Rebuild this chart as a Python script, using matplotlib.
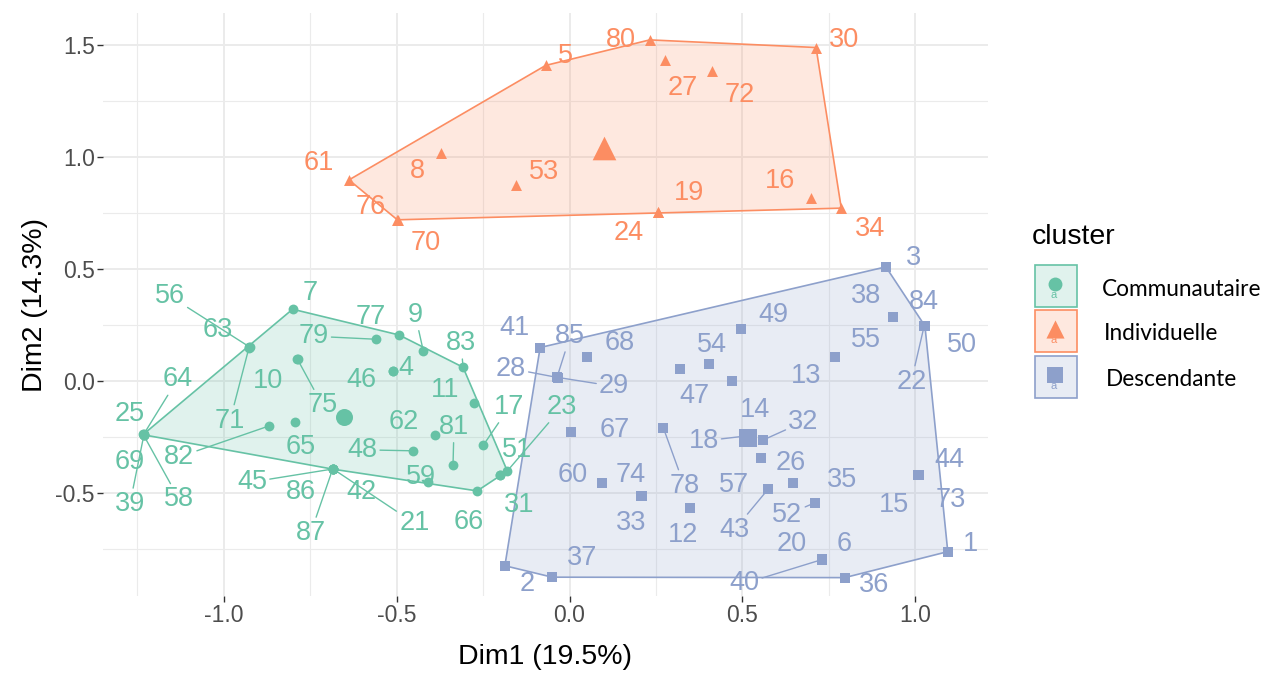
import numpy as np
import matplotlib.pyplot as plt
from matplotlib.patches import Polygon, Rectangle

plt.rcParams['font.family'] = ['Liberation Sans', 'DejaVu Sans']
plt.rcParams['axes.unicode_minus'] = False

cluster_names = ['Communautaire', 'Individuelle', 'Descendante']
cluster_colors = ['#66C2A5', '#FC8D62', '#8DA0CB']
cluster_markers = ['o', '^', 's']

# cluster 1 : Communautaire
com_ids = [4, 7, 9, 10, 11, 17, 21, 23, 25, 31, 39, 42, 45, 46, 48, 51, 56, 58,
           59, 62, 63, 64, 65, 66, 69, 71, 75, 77, 79, 81, 82, 83, 86, 87]
com_x = [-0.511, -0.801, -0.423, -0.785, -0.275, -0.249, -0.683, -0.180, -1.232,
         -0.201, -1.231, -0.685, -0.684, -0.512, -0.452, -0.200, -0.925, -1.233,
         -0.410, -0.389, -0.926, -1.232, -0.793, -0.267, -1.231, -0.927, -0.787,
         -0.493, -0.561, -0.337, -0.869, -0.308, -0.684, -0.685]
com_y = [0.045, 0.320, 0.134, 0.099, -0.100, -0.286, -0.394, -0.402, -0.240,
         -0.421, -0.241, -0.392, -0.393, 0.046, -0.312, -0.420, 0.151, -0.239,
         -0.451, -0.241, 0.150, -0.239, -0.182, -0.491, -0.240, 0.149, 0.097,
         0.205, 0.186, -0.375, -0.201, 0.061, -0.394, -0.393]

# cluster 2 : Individuelle
ind_ids = [5, 8, 16, 19, 24, 27, 30, 34, 53, 61, 70, 72, 76, 80]
ind_x = [-0.069, -0.373, 0.697, 0.256, 0.255, 0.277, 0.713, 0.786, -0.155,
         -0.638, -0.498, 0.412, -0.497, 0.232]
ind_y = [1.408, 1.017, 0.816, 0.755, 0.756, 1.433, 1.488, 0.771, 0.875,
         0.897, 0.719, 1.384, 0.720, 1.522]

# cluster 3 : Descendante
des_ids = [1, 2, 3, 6, 12, 13, 14, 15, 18, 20, 22, 26, 28, 29, 32, 33, 35, 36,
           37, 38, 40, 41, 43, 44, 47, 49, 50, 52, 54, 55, 57, 60, 67, 68, 73,
           74, 78, 84, 85]
des_x = [1.094, -0.187, 0.915, 0.730, 0.347, 0.767, 0.470, 1.010, 0.509, 0.729,
         1.026, 0.554, -0.034, -0.036, 0.561, 0.209, 0.647, 0.796, -0.050, 0.937,
         0.731, -0.085, 0.575, 1.011, 0.319, 0.497, 1.028, 0.711, 0.403, 0.768,
         0.573, 0.093, 0.005, 0.051, 1.009, 0.208, 0.271, 1.027, -0.036]
des_y = [-0.762, -0.825, 0.509, -0.798, -0.568, 0.106, 0.000, -0.420, -0.246,
         -0.799, 0.247, -0.342, 0.015, 0.016, -0.263, -0.515, -0.454, -0.878,
         -0.876, 0.284, -0.797, 0.149, -0.482, -0.419, 0.052, 0.232, 0.245,
         -0.543, 0.076, 0.105, -0.484, -0.454, -0.229, 0.106, -0.421, -0.513,
         -0.208, 0.246, 0.017]

# label placement (pixel offsets from the point, image y downwards)
label_off = {
    56: (-80, -51), 63: (-32, -17), 71: (-19, 73), 7: (18, -16), 79: (-62, -3),
    64: (34, -55), 25: (-14, -21), 10: (-30, 22), 75: (25, 46), 69: (-14, 27),
    39: (-14, 69), 58: (36, 65), 82: (-90, 31), 65: (5, 25), 45: (-81, 13),
    86: (-32, 23), 87: (-22, 64), 77: (-28, -18), 9: (-8, -36), 83: (-2, -24),
    4: (13, -3), 46: (-31, 9), 11: (-29, -13), 17: (26, -38), 62: (-31, -13),
    81: (1, -38), 48: (-51, -1), 59: (-7, -5), 42: (29, 23), 21: (81, 54),
    66: (-8, 31), 31: (19, 30), 51: (17, -25), 23: (55, -64),
    61: (-30, -17), 76: (-27, -13), 70: (28, 23), 8: (-23, 18), 53: (28, -13),
    5: (20, -9), 80: (-29, 0), 27: (17, 28), 72: (28, 24), 30: (28, -8),
    19: (31, -19), 24: (-29, 21), 16: (-30, -17), 34: (29, 21),
    41: (-26, -20), 85: (13, -41), 68: (33, -14), 28: (-47, -9), 29: (57, 9),
    67: (43, -2), 60: (-29, -8), 74: (-11, -21), 33: (-11, 27), 78: (21, 58),
    12: (-6, 27), 2: (22, 18), 37: (30, -19), 47: (15, 27), 54: (3, -19),
    18: (-42, 5), 14: (23, 29), 32: (40, -18), 26: (30, 5), 49: (32, -14),
    3: (28, -9), 38: (-27, -21), 84: (-1, -24), 50: (37, 19), 22: (-13, 56),
    55: (31, -17), 13: (-29, 19), 57: (-34, -4), 43: (-34, 41), 35: (49, -3),
    52: (-28, 12), 15: (-25, 30), 44: (30, -15), 73: (32, 25), 1: (23, -8),
    20: (-30, -16), 6: (22, -16), 40: (-78, 24), 36: (29, 7),
}
with_segment = {56, 71, 79, 64, 75, 39, 58, 82, 45, 87, 9, 83, 17, 81, 48, 21,
                23, 85, 28, 29, 78, 18, 32, 22, 43, 52, 40}


def convex_hull(xs, ys):
    pts = sorted(set(zip(xs, ys)))

    def cross(o, a, b):
        return (a[0] - o[0]) * (b[1] - o[1]) - (a[1] - o[1]) * (b[0] - o[0])

    lower, upper = [], []
    for p in pts:
        while len(lower) >= 2 and cross(lower[-2], lower[-1], p) <= 0:
            lower.pop()
        lower.append(p)
    for p in reversed(pts):
        while len(upper) >= 2 and cross(upper[-2], upper[-1], p) <= 0:
            upper.pop()
        upper.append(p)
    return lower[:-1] + upper[:-1]


fig = plt.figure(figsize=(12.75, 6.81), dpi=100)
ax = fig.add_axes([103 / 1275, 1 - 596 / 681, 885 / 1275, 583 / 681])

clusters = [(com_ids, com_x, com_y), (ind_ids, ind_x, ind_y), (des_ids, des_x, des_y)]
small_size = [50, 62, 50]
big_size = [150, 290, 180]

for k, (ids, xs, ys) in enumerate(clusters):
    col = cluster_colors[k]
    hull = convex_hull(xs, ys)
    ax.add_patch(Polygon(hull, closed=True, facecolor=col, alpha=0.2, edgecolor='none', zorder=2))
    ax.add_patch(Polygon(hull, closed=True, facecolor='none', edgecolor=col, lw=1.2, zorder=3))
    ax.scatter(xs, ys, s=small_size[k], marker=cluster_markers[k], color=col,
               linewidths=0, zorder=4)
    ax.scatter([np.mean(xs)], [np.mean(ys)], s=big_size[k], marker=cluster_markers[k],
               color=col, linewidths=0, zorder=4)
    for i, x, y in zip(ids, xs, ys):
        dx, dy = label_off[i]
        arrow = None
        if i in with_segment:
            arrow = dict(arrowstyle='-', color=col, lw=1.0, shrinkA=0, shrinkB=2)
        ax.annotate(str(i), xy=(x, y), xytext=(dx, -dy), textcoords='offset pixels',
                    ha='center', va='center', fontsize=19.5, color=col,
                    arrowprops=arrow, zorder=5)

ax.margins(x=0.05)
ax.set_ylim(-0.96, 1.642)
ax.set_xticks([-1.0, -0.5, 0.0, 0.5, 1.0])
ax.set_xticklabels(['-1.0', '-0.5', '0.0', '0.5', '1.0'])
ax.set_yticks([-0.5, 0.0, 0.5, 1.0, 1.5])
ax.set_yticklabels(['-0.5', '0.0', '0.5', '1.0', '1.5'])
ax.set_xticks([-1.25, -0.75, -0.25, 0.25, 0.75], minor=True)
ax.set_yticks([-0.75, -0.25, 0.25, 0.75, 1.25], minor=True)
ax.grid(True, which='major', color='#EBEBEB', lw=1.4, zorder=0)
ax.grid(True, which='minor', color='#EBEBEB', lw=0.8, zorder=0)
ax.set_axisbelow(True)
ax.tick_params(which='major', length=4, width=1.0, color='#333333',
               labelsize=16.5, labelcolor='#4D4D4D', pad=2)
ax.tick_params(which='minor', length=0)
for s in ax.spines.values():
    s.set_visible(False)
ax.set_xlabel('Dim1 (19.5%)', fontsize=20.5, labelpad=12)
ax.set_ylabel('Dim2 (14.3%)', fontsize=20.5, labelpad=5)

# legend
lax = fig.add_axes([0, 0, 1, 1])
lax.set_xlim(0, 1275)
lax.set_ylim(681, 0)
lax.axis('off')
lax.text(1032, 237, 'cluster', fontsize=20.5, va='center', ha='left')
key_top = [265, 310, 356]
label_x = [1102, 1104, 1106]
for k in range(3):
    col = cluster_colors[k]
    y0 = key_top[k]
    lax.add_patch(Rectangle((1035, y0), 42, 42, facecolor=col, alpha=0.2, edgecolor='none'))
    lax.add_patch(Rectangle((1035, y0), 42, 42, facecolor='none', edgecolor=col, lw=1.2))
    lax.scatter([1055], [y0 + 19], s=[100, 170, 120][k], marker=cluster_markers[k],
                color=col, linewidths=0)
    lax.text(1054, y0 + 30, 'a', fontsize=8, color=col, ha='center', va='center')
    lax.text(label_x[k], y0 + 24, cluster_names[k], fontsize=16.3, family='Lato',
             va='center', ha='left', color='black')

fig.savefig('out.png', dpi=100)
